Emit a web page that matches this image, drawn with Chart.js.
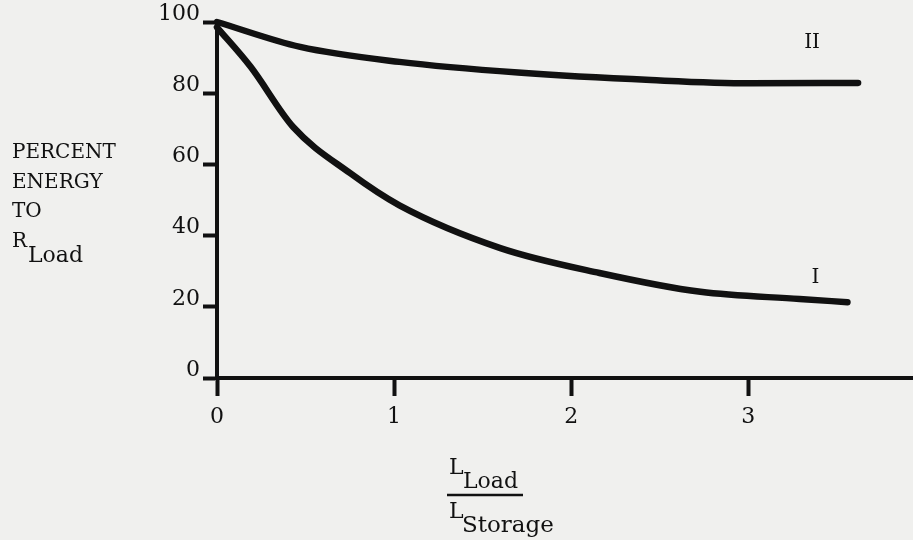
<!DOCTYPE html>
<html>
<head>
<meta charset="utf-8">
<script src="https://cdn.jsdelivr.net/npm/chart.js@4"></script>
<style>
  body { margin: 0; background: #f0f0ee; }
  canvas { display: block; }
</style>
</head>
<body>
<canvas id="energyChart" width="913" height="540"></canvas>
<script>
// curve I
const xCurveI = [0, 0.19, 0.43, 0.75, 1.03, 1.6, 2.16, 2.73, 3.29, 3.56];
const yCurveI = [98.5, 87.4, 70.5, 57.6, 48.5, 36.5, 29.5, 24.2, 22.2, 21.3];
// curve II
const xCurveII = [0, 0.47, 1.03, 1.7, 2.45, 3.01, 3.62];
const yCurveII = [100, 93, 88.8, 85.8, 83.7, 82.8, 82.9];

const xTicks = [0, 1, 2, 3];
const yTicks = [0, 20, 40, 60, 80, 100];
const curveNames = ['I', 'II'];

const ink = '#111';
const serif = '"DejaVu Serif", serif';

const toPoints = (xs, ys) => xs.map((v, i) => ({ x: v, y: ys[i] }));

// titles and curve names drawn as text on top
const textPlugin = {
  id: 'textPlugin',
  afterDraw(chart) {
    const { ctx, scales: { x, y } } = chart;
    ctx.save();
    ctx.fillStyle = ink;
    ctx.strokeStyle = ink;
    ctx.textAlign = 'left';
    ctx.textBaseline = 'alphabetic';

    // y axis title
    ctx.font = '20px ' + serif;
    ctx.fillText('PERCENT', 12, 158);
    ctx.fillText('ENERGY', 12, 188);
    ctx.fillText('TO', 12, 217);
    ctx.fillText('R', 12, 247);
    ctx.font = '22px ' + serif;
    ctx.fillText('Load', 28, 262);

    // x axis title, a fraction
    ctx.font = '22px ' + serif;
    ctx.fillText('L', 449, 474);
    ctx.fillText('Load', 463, 488);
    ctx.lineWidth = 2.5;
    ctx.beginPath();
    ctx.moveTo(447, 495);
    ctx.lineTo(523, 495);
    ctx.stroke();
    ctx.fillText('L', 449, 518);
    ctx.font = '23px ' + serif;
    ctx.fillText('Storage', 462, 532);

    // curve names near the right ends
    ctx.font = '20px ' + serif;
    ctx.textAlign = 'center';
    ctx.textBaseline = 'middle';
    const lastI = xCurveI.length - 1;
    const lastII = xCurveII.length - 1;
    ctx.fillText(curveNames[0], x.getPixelForValue(xCurveI[lastI]) - 32, y.getPixelForValue(yCurveI[lastI]) - 24);
    ctx.fillText(curveNames[1], x.getPixelForValue(xCurveII[lastII]) - 46, y.getPixelForValue(yCurveII[lastII]) - 40);
    ctx.restore();
  }
};

const lineStyle = {
  borderColor: ink,
  borderWidth: 6.5,
  borderCapStyle: 'round',
  borderJoinStyle: 'round',
  pointRadius: 0,
  cubicInterpolationMode: 'monotone',
  clip: false,
  fill: false
};

new Chart(document.getElementById('energyChart'), {
  type: 'line',
  data: {
    datasets: [
      { label: curveNames[0], data: toPoints(xCurveI, yCurveI), ...lineStyle },
      { label: curveNames[1], data: toPoints(xCurveII, yCurveII), ...lineStyle }
    ]
  },
  options: {
    responsive: false,
    animation: false,
    layout: { padding: { top: 22, right: 0, left: 0, bottom: 0 } },
    plugins: {
      legend: { display: false },
      tooltip: { enabled: false }
    },
    scales: {
      x: {
        type: 'linear',
        min: 0,
        max: 3.93,
        afterFit: s => { s.height = 162; },
        afterBuildTicks: s => { s.ticks = xTicks.map(v => ({ value: v })); },
        border: { color: ink, width: 4 },
        grid: { drawOnChartArea: false, color: ink, tickLength: 18, tickWidth: 4 },
        ticks: { color: ink, font: { family: 'DejaVu Serif', size: 22 }, padding: 8, maxRotation: 0 }
      },
      y: {
        type: 'linear',
        min: 0,
        max: 100,
        afterFit: s => { s.width = 217; },
        afterBuildTicks: s => { s.ticks = yTicks.map(v => ({ value: v })); },
        border: { color: ink, width: 4 },
        grid: { drawOnChartArea: false, color: ink, tickLength: 14, tickWidth: 4 },
        ticks: { color: ink, font: { family: 'DejaVu Serif', size: 22 }, padding: 3, labelOffset: -8 }
      }
    }
  },
  plugins: [textPlugin]
});
</script>
</body>
</html>
